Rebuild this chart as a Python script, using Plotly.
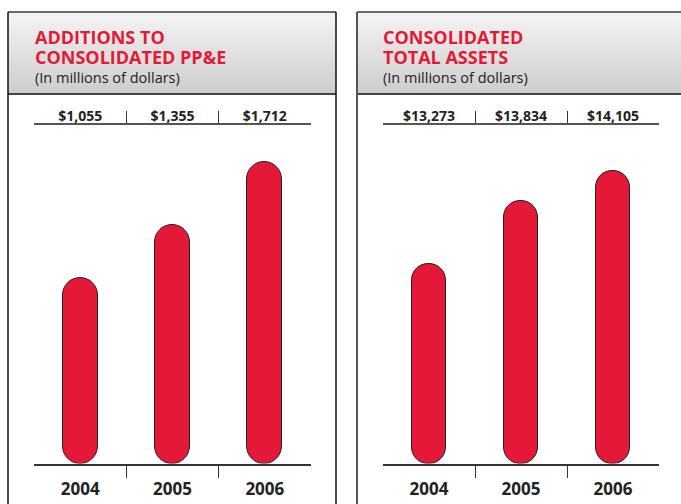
import plotly.graph_objects as go

# data
years = ["2004", "2005", "2006"]
ppe_additions = [1055, 1355, 1712]
total_assets = [13273, 13834, 14105]

W, H = 681, 504
RED = "#e31937"
INK = "#222222"
FONT = "Open Sans"

# plot area in pixels (shared by both panels)
PLOT_TOP, PLOT_BOTTOM = 125, 463.5
BAR_W = 0.38

panels = [
    dict(title=["ADDITIONS TO", "CONSOLIDATED PP&E"], values=ppe_additions,
         yrange=[0, 1922], x0=34, x1=311, box=(8, 336), title_x=33),
    dict(title=["CONSOLIDATED", "TOTAL ASSETS"], values=total_assets,
         yrange=[11490, 14518], x0=383, x1=659, box=(357, 700), title_x=381),
]


def px(x):
    return x / W


def py(y):
    return 1 - y / H


def money(v):
    return "${:,}".format(v)


fig = go.Figure()
shapes = []
annotations = []
xs = list(range(len(years)))

for i, p in enumerate(panels):
    xa, xt = "x%d" % (2 * i + 1), "x%d" % (2 * i + 2)
    ya = "y%d" % (2 * i + 1)
    lo, hi = p["yrange"]
    bar_px = BAR_W * (p["x1"] - p["x0"]) / 3

    # bar with explicit base -> rounded at both ends (pill)
    fig.add_trace(go.Bar(
        x=xs, y=[v - lo for v in p["values"]], base=[lo] * len(xs), width=BAR_W,
        marker=dict(color=RED, line=dict(color=INK, width=1), cornerradius=bar_px / 2),
        xaxis=xa, yaxis=ya, customdata=p["values"],
        hovertemplate="%{customdata:,}<extra></extra>", showlegend=False))
    # invisible trace to activate the top (value) axis
    fig.add_trace(go.Scatter(
        x=xs, y=p["values"], mode="markers", marker=dict(opacity=0),
        xaxis=xt, yaxis=ya, hoverinfo="skip", showlegend=False))

    dom = [px(p["x0"]), px(p["x1"])]
    ydom = [py(PLOT_BOTTOM), py(PLOT_TOP)]
    fig.update_layout(**{
        "xaxis%d" % (2 * i + 1): dict(
            domain=dom, range=[-0.5, 2.5], anchor=ya, fixedrange=True,
            tickvals=xs, ticktext=years, ticks="", showgrid=False, zeroline=False,
            showline=True, linecolor="#333333", linewidth=1.5,
            tickfont=dict(family=FONT, size=17, color=INK, weight="bold"),
            ticklabelstandoff=9,
            minor=dict(tickvals=[0.5, 1.5], ticks="outside", ticklen=13,
                       tickwidth=1.2, tickcolor="#333333", showgrid=False)),
        "xaxis%d" % (2 * i + 2): dict(
            domain=dom, range=[-0.5, 2.5], anchor=ya, overlaying=xa, side="top",
            fixedrange=True, tickvals=xs, ticktext=[money(v) for v in p["values"]],
            ticks="", showgrid=False, zeroline=False,
            showline=True, linecolor="#555555", linewidth=1.5,
            tickfont=dict(family=FONT, size=14, color=INK, weight="bold"),
            ticklabelstandoff=-3,
            minor=dict(tickvals=[0.5, 1.5], ticks="outside", ticklen=12,
                       tickwidth=1.2, tickcolor="#333333", showgrid=False)),
        "yaxis%d" % (2 * i + 1): dict(
            domain=ydom, range=p["yrange"], anchor=xa, visible=False, fixedrange=True),
    })

    # panel header: vertical grey gradient built from thin bands
    bx0, bx1 = p["box"]
    top, bottom = 12, 94
    steps = 41
    for k in range(steps):
        t = k / (steps - 1)
        g = int(round(244 - t * (244 - 205)))
        y0 = top + (bottom - top) * k / steps
        y1 = top + (bottom - top) * (k + 1) / steps + 0.6
        shapes.append(dict(type="rect", xref="paper", yref="paper", layer="below",
                           x0=px(bx0), x1=px(bx1), y0=py(y1), y1=py(y0),
                           line=dict(width=0), fillcolor="rgb(%d,%d,%d)" % (g, g, g + 1)))
    # frame
    shapes.append(dict(type="line", xref="paper", yref="paper", x0=px(bx0), x1=px(bx1),
                       y0=py(top), y1=py(top), line=dict(color="#6a6a6a", width=2)))
    shapes.append(dict(type="line", xref="paper", yref="paper", x0=px(bx0), x1=px(bx1),
                       y0=py(bottom), y1=py(bottom), line=dict(color="#111111", width=1.5)))
    shapes.append(dict(type="line", xref="paper", yref="paper", x0=px(bx0), x1=px(bx0),
                       y0=py(top), y1=py(H + 5),
                       line=dict(color="#111111" if i == 0 else "#555555",
                                 width=1.5 if i == 0 else 2)))
    if i == 0:
        shapes.append(dict(type="line", xref="paper", yref="paper", x0=px(bx1), x1=px(bx1),
                           y0=py(top), y1=py(H + 5), line=dict(color="#111111", width=1.5)))

    # header text: one block, line spacing follows the base font size
    head = "<br>".join(
        ["<span style='font-size:18px;color:%s'><b>%s</b></span>" % (RED, t) for t in p["title"]]
        + ["<span style='font-size:14.5px'>(In millions of dollars)</span>"])
    annotations.append(dict(
        text=head, xref="paper", yref="paper", align="left",
        x=px(p["title_x"]), y=py(56), xanchor="left", yanchor="middle",
        showarrow=False, font=dict(family=FONT, size=15, color=INK)))

fig.update_layout(
    width=W, height=H, margin=dict(l=0, r=0, t=0, b=0),
    paper_bgcolor="white", plot_bgcolor="rgba(0,0,0,0)",
    barmode="overlay", bargap=0, shapes=shapes, annotations=annotations,
)

fig.write_html("out.html", config={"displayModeBar": False},
               post_script="document.body.style.margin='0';")
